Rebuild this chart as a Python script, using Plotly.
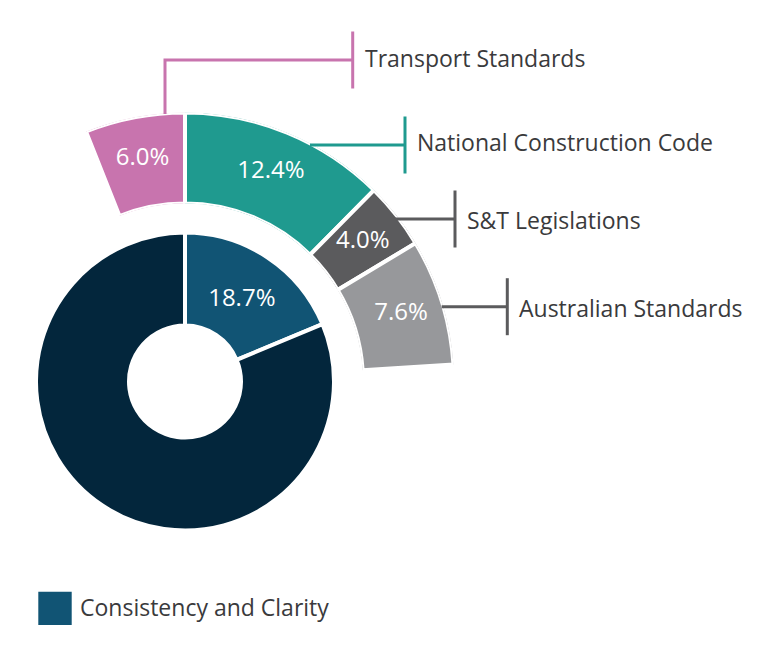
import math
import plotly.graph_objects as go

# inner donut
core_labels = ['Consistency and Clarity', 'Other']
core_values = [18.7, 81.3]
core_colors = ['#115474', '#03263c']

# outer ring, share of the whole (sits over the 18.7% slice)
source_labels = ['Transport Standards', 'National Construction Code',
                 'S&T Legislations', 'Australian Standards']
source_values = [6.0, 12.4, 4.0, 7.6]
source_colors = ['#c874ae', '#1f9a8f', '#5b5b5d', '#97989b']

W, H = 780, 657
OFF = 8                      # page body margin, px
CX, CY = 185 - OFF, 381.5 - OFF
R_IN, HOLE_IN = 149, 56
R_OUT, HOLE_OUT = 269, 178
SECTOR = [0, 115]
FONT = 'Open Sans'
TEXT_COLOR = '#3a3a3c'


def px(x, y):
    # window pixel -> paper coords
    return (x - OFF) / W, 1 - (y - OFF) / H


def sector_box(a0, a1):
    angs = [a0, a1] + [a for a in (0, 90, 180, 270) if a0 <= a <= a1]
    xs = [math.cos(math.radians(a)) for a in angs] + [0]
    ys = [math.sin(math.radians(a)) for a in angs] + [0]
    return min(xs), min(ys), max(xs), max(ys)


# outer ring starts so that the 2nd slice begins at 12 o'clock
start = -source_values[0] * 3.6
widths = [v * 3.6 for v in source_values]
mids = []
acc = start
for w in widths:
    mids.append(acc + w / 2)
    acc += w

fig = go.Figure()

fig.add_trace(go.Pie(
    values=core_values, labels=core_labels, sort=False, direction='clockwise', rotation=0,
    hole=HOLE_IN / R_IN,
    marker=dict(colors=core_colors, line=dict(color='white', width=4)),
    text=[f'{core_values[0]:.1f}%', ''], textinfo='text', textposition='inside',
    insidetextorientation='horizontal',
    textfont=dict(family=FONT, size=24, color='white'),
    domain=dict(x=[(CX - R_IN) / W, (CX + R_IN) / W],
                y=[1 - (CY + R_IN) / H, 1 - (CY - R_IN) / H]),
    hoverinfo='skip', showlegend=False,
))

fig.add_trace(go.Barpolar(
    r=[1] * len(source_values), theta=mids, width=widths,
    marker=dict(color=source_colors, line=dict(color='white', width=4)),
    hoverinfo='skip', showlegend=False,
))
fig.add_trace(go.Scatterpolar(
    r=[0.53] * len(source_values), theta=mids, mode='text',
    text=[f'{v:.1f}%' for v in source_values],
    textfont=dict(family=FONT, size=24, color='white'),
    hoverinfo='skip', showlegend=False,
))

bx0, by0, bx1, by1 = sector_box(*SECTOR)
polar_x = [(CX + R_OUT * bx0) / W, (CX + R_OUT * bx1) / W]
polar_y = [1 - (CY - R_OUT * by0) / H, 1 - (CY - R_OUT * by1) / H]

# callouts: leader path (window px), end bar at last point
leaders = [
    [(165, 114), (165, 60), (352.7, 60)],
    [(310, 145), (405, 145)],
    [(395, 219), (455, 219)],
    [(441.7, 306.7), (507.3, 306.7)],
]
leader_colors = ['#c874ae', '#1f9a8f', '#5b5b5d', '#5b5b5d']
bar_half = 28.5
label_dx = 10
label_dy = [-2, -3, 1, 1]

shapes = []
annotations = []
for pts, name, col, dy in zip(leaders, source_labels, leader_colors, label_dy):
    path = 'M ' + ' L '.join(f'{px(x, y)[0]} {px(x, y)[1]}' for x, y in pts)
    shapes.append(dict(type='path', xref='paper', yref='paper', path=path,
                       line=dict(color=col, width=3)))
    ex, ey = pts[-1]
    x0, y0 = px(ex, ey - bar_half)
    x1, y1 = px(ex, ey + bar_half)
    shapes.append(dict(type='line', xref='paper', yref='paper', x0=x0, y0=y0, x1=x1, y1=y1,
                       line=dict(color=col, width=3)))
    lx, ly = px(ex + label_dx, ey + dy)
    annotations.append(dict(x=lx, y=ly, xref='paper', yref='paper', text=name,
                            showarrow=False, xanchor='left', yanchor='middle',
                            font=dict(family=FONT, size=23, color=TEXT_COLOR)))

# legend key for the inner blue slice
lx0, ly0 = px(38.3, 625)
lx1, ly1 = px(71.7, 591.7)
shapes.append(dict(type='rect', xref='paper', yref='paper', x0=lx0, y0=ly0, x1=lx1, y1=ly1,
                   fillcolor=core_colors[0], line=dict(width=0)))
tx, ty = px(78, 607)
annotations.append(dict(x=tx, y=ty, xref='paper', yref='paper', text=core_labels[0],
                        showarrow=False, xanchor='left', yanchor='middle',
                        font=dict(family=FONT, size=23, color=TEXT_COLOR)))

fig.update_layout(
    width=W, height=H,
    margin=dict(l=0, r=0, t=0, b=0),
    paper_bgcolor='white', plot_bgcolor='white',
    showlegend=False,
    polar=dict(
        domain=dict(x=polar_x, y=polar_y),
        sector=SECTOR, hole=HOLE_OUT / R_OUT, bgcolor='rgba(0,0,0,0)',
        radialaxis=dict(range=[0, 1], visible=False),
        angularaxis=dict(direction='clockwise', rotation=90, visible=False),
    ),
    shapes=shapes,
    annotations=annotations,
)

fig.write_html('out.html')
